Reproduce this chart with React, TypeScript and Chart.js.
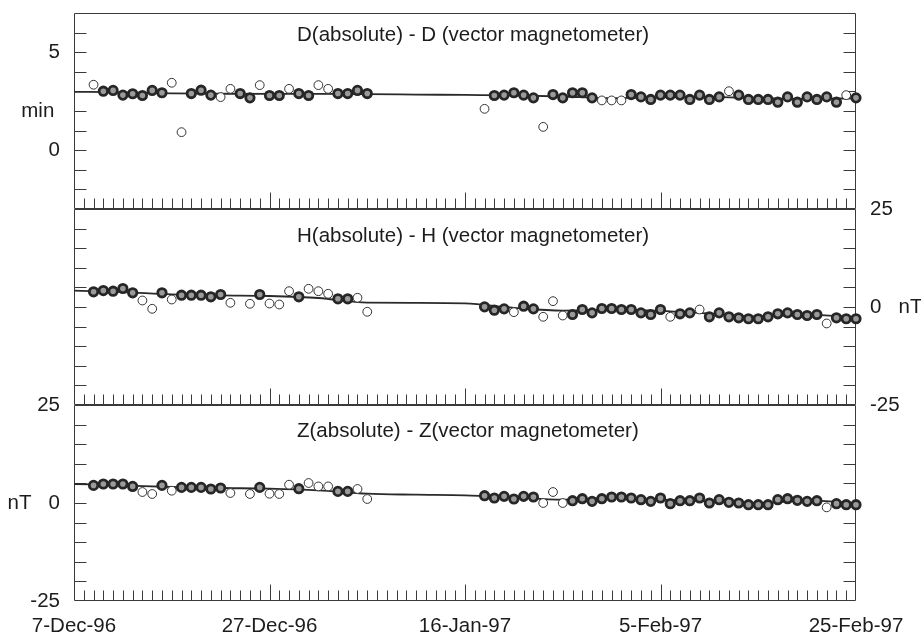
import { useEffect, useRef } from 'react';
import { Chart, registerables } from 'chart.js';

Chart.register(...registerables);

// ---------- data ----------
const xTickLabels = ['7-Dec-96', '27-Dec-96', '16-Jan-97', '5-Feb-97', '25-Feb-97'];
const panelTitles = [
  'D(absolute) - D (vector magnetometer)',
  'H(absolute) - H (vector magnetometer)',
  'Z(absolute) - Z(vector magnetometer)',
];

// days since 7-Dec-96
const dDays = [2, 3, 4, 5, 6, 7, 8, 9, 10, 11, 12, 13, 14, 15, 16, 17, 18, 19, 20, 21, 22, 23, 24, 25, 26, 27, 28, 29, 30,
  42, 43, 44, 45, 46, 47, 48, 49, 50, 51, 52, 53, 54, 55, 56, 57, 58, 59, 60, 61, 62, 63, 64, 65, 66, 67, 68, 69, 70, 71, 72, 73, 74, 75, 76, 77, 78, 79, 80];
const dValues = [3.34, 3.01, 3.05, 2.81, 2.88, 2.79, 3.05, 2.93, 3.44, 0.92, 2.89, 3.06, 2.81, 2.71, 3.13, 2.89, 2.67, 3.32, 2.79, 2.79, 3.13, 2.89, 2.79, 3.32, 3.13, 2.89, 2.89, 3.05, 2.89,
  2.11, 2.79, 2.81, 2.93, 2.81, 2.67, 1.19, 2.84, 2.67, 2.93, 2.93, 2.67, 2.54, 2.54, 2.54, 2.84, 2.72, 2.59, 2.81, 2.81, 2.81, 2.59, 2.81, 2.59, 2.72, 3.01, 2.81, 2.59, 2.59, 2.59, 2.45, 2.72, 2.45, 2.72, 2.59, 2.72, 2.45, 2.81, 2.67];
// 1 = rejected (open circle), 0 = used (bold circle)
const dRejected = [1, 0, 0, 0, 0, 0, 0, 0, 1, 1, 0, 0, 0, 1, 1, 0, 0, 1, 0, 0, 1, 0, 0, 1, 1, 0, 0, 0, 0,
  1, 0, 0, 0, 0, 0, 1, 0, 0, 0, 0, 0, 1, 1, 1, 0, 0, 0, 0, 0, 0, 0, 0, 0, 0, 1, 0, 0, 0, 0, 0, 0, 0, 0, 0, 0, 0, 1, 0];

const hzDays = [2, 3, 4, 5, 6, 7, 8, 9, 10, 11, 12, 13, 14, 15, 16, 18, 19, 20, 21, 22, 23, 24, 25, 26, 27, 28, 29, 30,
  42, 43, 44, 45, 46, 47, 48, 49, 50, 51, 52, 53, 54, 55, 56, 57, 58, 59, 60, 61, 62, 63, 64, 65, 66, 67, 68, 69, 70, 71, 72, 73, 74, 75, 76, 77, 78, 79, 80];
const hValues = [3.88, 4.2, 4.03, 4.72, 3.62, 1.66, -0.46, 3.62, 1.91, 3.01, 3.01, 3.01, 2.6, 3.19, 1.07, 0.82, 3.19, 0.89, 0.64, 4.03, 2.6, 4.64, 4.03, 3.37, 2.09, 2.09, 2.35, -1.22,
  0.04, -0.81, -0.47, -1.32, 0.21, -0.47, -2.5, 1.49, -2.17, -1.91, -0.64, -1.49, -0.38, -0.38, -0.64, -0.64, -1.49, -1.91, -0.64, -2.5, -1.74, -1.49, -0.64, -2.5, -1.49, -2.5, -2.76, -3.0, -3.0, -2.5, -1.74, -1.49, -1.91, -2.17, -1.91, -4.2, -2.76, -3.0, -3.0];
const hRejected = [0, 0, 0, 0, 0, 1, 1, 0, 1, 0, 0, 0, 0, 0, 1, 1, 0, 1, 1, 1, 0, 1, 1, 1, 0, 0, 1, 1,
  0, 0, 0, 1, 0, 0, 1, 1, 1, 0, 0, 0, 0, 0, 0, 0, 0, 0, 0, 1, 0, 0, 1, 0, 0, 0, 0, 0, 0, 0, 0, 0, 0, 0, 0, 1, 0, 0, 0];
const zValues = [4.49, 4.85, 4.85, 4.85, 4.23, 2.8, 2.3, 4.49, 3.14, 3.98, 3.98, 3.98, 3.57, 3.83, 2.55, 2.3, 3.98, 2.37, 2.3, 4.67, 3.65, 5.1, 4.23, 4.23, 2.96, 2.96, 3.57, 1.02,
  1.86, 1.28, 1.7, 1.02, 1.7, 1.53, 0, 2.8, 0, 0.59, 1.1, 0.42, 1.1, 1.53, 1.53, 1.28, 0.85, 0.42, 1.28, -0.17, 0.59, 0.59, 1.28, 0, 0.85, 0.17, 0, -0.43, -0.43, -0.43, 0.85, 1.1, 0.68, 0.42, 0.59, -1.11, -0.17, -0.43, -0.43];
const zRejected = [0, 0, 0, 0, 0, 1, 1, 0, 1, 0, 0, 0, 0, 0, 1, 1, 0, 1, 1, 1, 0, 1, 1, 1, 0, 0, 1, 1,
  0, 0, 0, 0, 0, 0, 1, 1, 1, 0, 0, 0, 0, 0, 0, 0, 0, 0, 0, 0, 0, 0, 0, 0, 0, 0, 0, 0, 0, 0, 0, 0, 0, 0, 0, 1, 0, 0, 0];

// baseline knots
const baseDays = [0, 5, 10, 15, 20, 25, 30, 35, 40, 45, 50, 55, 60, 65, 70, 75, 80];
const dBase = [2.98, 2.95, 2.9, 2.88, 2.87, 2.87, 2.86, 2.84, 2.82, 2.8, 2.74, 2.66, 2.7, 2.72, 2.65, 2.62, 2.65];
const hBase = [4.2, 3.8, 3.2, 2.95, 2.8, 2.3, 1.1, 1.05, 0.9, -0.2, -0.9, -0.7, -1.0, -1.7, -2.4, -2.0, -2.6];
const zBase = [4.85, 4.5, 4.08, 3.83, 3.65, 3.2, 2.37, 2.12, 1.94, 1.4, 0.85, 1.3, 0.85, 0.4, 0.0, 0.6, 0.0];

// ---------- styling ----------
const FONT_FAMILY = "'Liberation Sans', Arial, Helvetica, sans-serif";
const FONT_SIZE = 20.5;
const TEXT = '#1c1c1c';
const LINE = '#3a3a3a';
const LEFT_W = 74;
const RIGHT_W = 65;
const X_H = 36;
const TITLE_DX = 223;
const TITLE_DY = [22.5, 27, 26.5];
const PANEL_IDS = ['yD', 'yH', 'yZ'];

function pick(days: number[], vals: number[], flags: number[], want: number) {
  const out: { x: number; y: number }[] = [];
  days.forEach((d, i) => {
    if (flags[i] === want) out.push({ x: d, y: vals[i] });
  });
  return out;
}

function baseline(vals: number[]) {
  return baseDays.map((d, i) => ({ x: d, y: vals[i] }));
}

const framePlugin = {
  id: 'panelFrame',
  beforeDatasetsDraw(chart: any) {
    const { ctx, chartArea, scales } = chart;
    const xs = scales.x;
    const L = Math.round(chartArea.left) + 0.5;
    const R = Math.round(chartArea.right) - 0.5;
    ctx.save();
    ctx.strokeStyle = LINE;
    ctx.lineWidth = 1;
    PANEL_IDS.forEach((id, idx) => {
      const s = scales[id];
      const T = Math.round(s.top) + 0.5;
      const B = Math.round(s.bottom) - 0.5;
      ctx.beginPath();
      ctx.rect(L, T, R - L, B - T);
      // y ticks inside on both sides
      s.ticks.forEach((t: any) => {
        if (t.value <= s.min || t.value >= s.max) return;
        const py = Math.round(s.getPixelForValue(t.value)) + 0.5;
        ctx.moveTo(L, py);
        ctx.lineTo(L + 12, py);
        ctx.moveTo(R, py);
        ctx.lineTo(R - 12, py);
      });
      // day ticks at bottom of each panel
      for (let d = Math.ceil(xs.min) + 1; d < xs.max; d++) {
        const px = Math.round(xs.getPixelForValue(d)) + 0.5;
        const len = d % 20 === 0 ? 16 : 10;
        ctx.moveTo(px, B);
        ctx.lineTo(px, B - len);
      }
      ctx.stroke();
      // panel title
      ctx.fillStyle = TEXT;
      ctx.font = `${FONT_SIZE}px ${FONT_FAMILY}`;
      ctx.textAlign = 'left';
      ctx.textBaseline = 'middle';
      ctx.fillText(panelTitles[idx], chartArea.left + TITLE_DX, s.top + TITLE_DY[idx]);
    });
    ctx.restore();
  },
};

function yScale(pos: 'left' | 'right', weight: number, min: number, max: number, step: number,
  labels: Record<string, string> | null) {
  return {
    type: 'linear',
    position: pos,
    stack: pos === 'left' ? 'L' : 'R',
    stackWeight: 1,
    weight,
    min,
    max,
    grid: { display: false, drawTicks: true, tickLength: 14 },
    border: { display: false },
    ticks: {
      stepSize: step,
      autoSkip: false,
      padding: 0,
      color: TEXT,
      font: { family: FONT_FAMILY, size: FONT_SIZE },
      callback: (v: number) => (labels && labels[String(v)] !== undefined ? labels[String(v)] : ''),
    },
    afterFit: (sc: any) => {
      sc.width = pos === 'left' ? LEFT_W : RIGHT_W;
    },
  };
}

function pointsDataset(data: any[], axis: string, rejected: boolean) {
  return rejected
    ? {
        data, yAxisID: axis, xAxisID: 'x', showLine: false, order: 2, clip: false,
        pointRadius: 4.4, pointBorderWidth: 1, pointBorderColor: '#333', pointBackgroundColor: '#fff',
      }
    : {
        data, yAxisID: axis, xAxisID: 'x', showLine: false, order: 1, clip: false,
        pointRadius: 4.2, pointBorderWidth: 2.8, pointBorderColor: '#262626', pointBackgroundColor: '#9a9a9a',
      };
}

function lineDataset(data: any[], axis: string) {
  return {
    data, yAxisID: axis, xAxisID: 'x', showLine: true, order: 3, clip: false,
    borderColor: '#2a2a2a', borderWidth: 1.8, pointRadius: 0, cubicInterpolationMode: 'monotone',
  };
}

export default function App() {
  const ref = useRef<HTMLCanvasElement>(null);
  useEffect(() => {
    if (!ref.current) return;
    const chart = new Chart(ref.current, {
      type: 'scatter',
      data: {
        datasets: [
          lineDataset(baseline(dBase), 'yD'),
          pointsDataset(pick(dDays, dValues, dRejected, 1), 'yD', true),
          pointsDataset(pick(dDays, dValues, dRejected, 0), 'yD', false),
          lineDataset(baseline(hBase), 'yH'),
          pointsDataset(pick(hzDays, hValues, hRejected, 1), 'yH', true),
          pointsDataset(pick(hzDays, hValues, hRejected, 0), 'yH', false),
          lineDataset(baseline(zBase), 'yZ'),
          pointsDataset(pick(hzDays, zValues, zRejected, 1), 'yZ', true),
          pointsDataset(pick(hzDays, zValues, zRejected, 0), 'yZ', false),
        ] as any,
      },
      options: {
        animation: false,
        responsive: true,
        maintainAspectRatio: false,
        events: [],
        layout: { padding: { top: 13, left: 0, right: 0, bottom: 0 } },
        plugins: { legend: { display: false }, tooltip: { enabled: false } },
        scales: {
          x: {
            type: 'linear',
            min: 0,
            max: 80,
            grid: { display: false, drawTicks: true, tickLength: 13 },
            border: { display: false },
            ticks: {
              stepSize: 20,
              autoSkip: false,
              maxRotation: 0,
              padding: 0,
              color: TEXT,
              font: { family: FONT_FAMILY, size: FONT_SIZE },
              callback: (v: number) => xTickLabels[Math.round(v / 20)] ?? '',
            },
            afterFit: (sc: any) => {
              sc.height = X_H;
            },
          },
          yD: yScale('left', 3, -3, 7, 1, { '5': '5', '2': 'min ', '0': '0' }),
          yH: yScale('left', 2, -25, 25, 5, null),
          yZ: yScale('left', 1, -25, 25, 5, { '25': '25', '0': 'nT   0', '-25': '-25' }),
          yDr: yScale('right', 1, -3, 7, 1, null),
          yHr: yScale('right', 2, -25, 25, 5, { '25': '25', '0': '0   nT', '-25': '-25' }),
          yZr: yScale('right', 3, -25, 25, 5, null),
        } as any,
      },
      plugins: [framePlugin],
    });
    return () => chart.destroy();
  }, []);
  return (
    <div style={{ position: 'absolute', left: 0, top: 0, width: 921, height: 637 }}>
      <canvas ref={ref} />
    </div>
  );
}
